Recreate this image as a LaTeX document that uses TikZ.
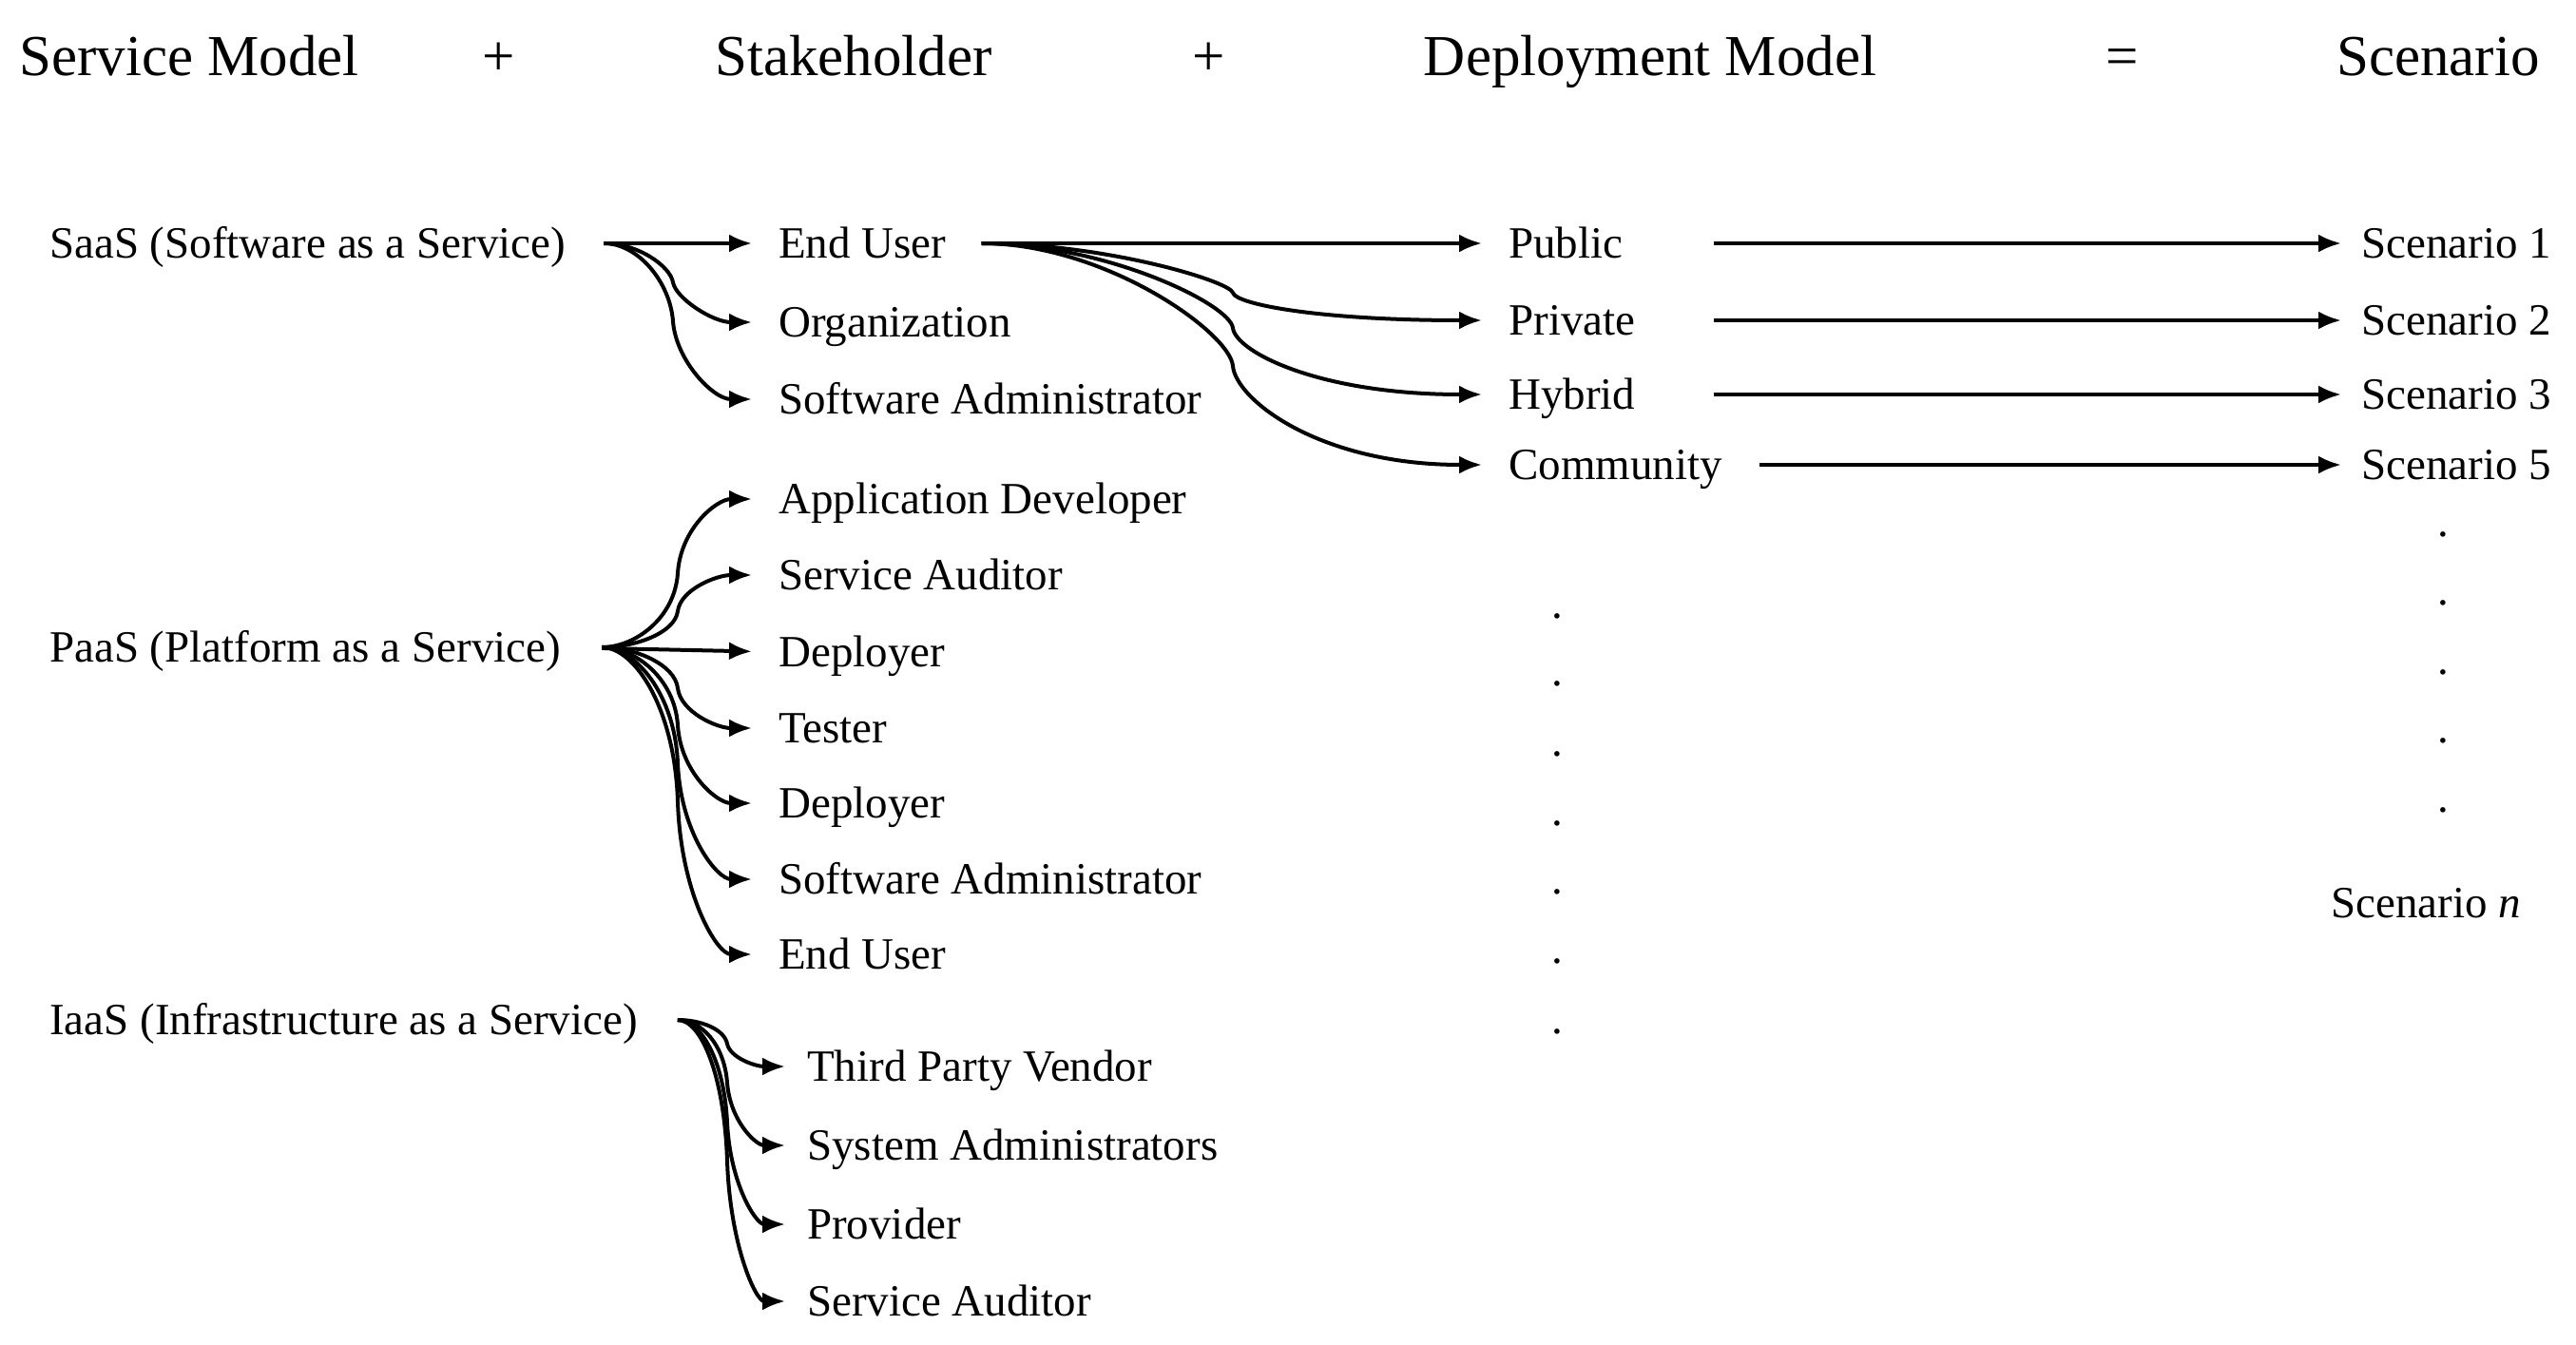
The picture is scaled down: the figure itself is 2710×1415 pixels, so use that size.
\documentclass[tikz,border=0pt]{standalone}
\usepackage{fontspec}
\setmainfont{Liberation Serif}
\usetikzlibrary{arrows.meta}
% #1 source node, #2 target node, #3 shorten start, #4 shorten end,
% #5 start handle, #6 middle point, #7 vertical handle at middle, #8 end handle
\newcommand{\twobend}[8]{%
  \draw[arr, shorten <=#3, shorten >=#4] (#1.east)
    .. controls +(#5,0) and +(-3,{-1*(#7)}) .. (#6)
    .. controls +(3,{#7}) and +(-#8,0) .. (#2.west);}
\begin{document}
\begin{tikzpicture}[x=1pt,y=-1pt,
  lbl/.style={font=\fontsize{47}{56}\selectfont, inner sep=0pt, text height=31pt, text depth=0pt, anchor=west},
  hdr/.style={font=\fontsize{61}{72}\selectfont, inner sep=0pt, text height=40pt, text depth=0pt},
  dotnode/.style={font=\fontsize{47}{56}\selectfont, inner sep=0pt},
  arr/.style={line width=4pt, -{Latex[length=24pt,width=19pt]}},
]
\fill[white] (0,0) rectangle (2710,1415);
\useasboundingbox (0,0) rectangle (2710,1415);

% headers
\node[hdr] (hsm) at (199,60) {Service Model};
\node[hdr] (hp1) at (525,60) {+};
\node[hdr] (hsh) at (898,60) {Stakeholder};
\node[hdr] (hp2) at (1272,60) {+};
\node[hdr] (hdm) at (1736,60) {Deployment Model};
\node[hdr] (heq) at (2233,60) {=};
\node[hdr] (hsc) at (2565,60) {Scenario};

% service models
\node[lbl] (saas) at (52,256) {SaaS (Software as a Service)};
\node[lbl] (paas) at (52,681) {PaaS (Platform as a Service)};
\node[lbl] (iaas) at (52,1073) {IaaS (Infrastructure as a Service)};

% stakeholders
\node[lbl] (s1) at (819,256) {End User};
\node[lbl] (s2) at (819,339) {Organization};
\node[lbl] (s3) at (819,420) {Software Administrator};
\node[lbl] (p1) at (819,525) {Application Developer};
\node[lbl] (p2) at (819,605) {Service Auditor};
\node[lbl] (p3) at (819,686) {Deployer};
\node[lbl] (p4) at (819,766) {Tester};
\node[lbl] (p5) at (819,845) {Deployer};
\node[lbl] (p6) at (819,925) {Software Administrator};
\node[lbl] (p7) at (819,1004) {End User};
\node[lbl] (i1) at (849,1122) {Third Party Vendor};
\node[lbl] (i2) at (849,1205) {System Administrators};
\node[lbl] (i3) at (849,1288) {Provider};
\node[lbl] (i4) at (849,1369) {Service Auditor};

% deployment models
\node[lbl] (d1) at (1587,256) {Public};
\node[lbl] (d2) at (1587,337) {Private};
\node[lbl] (d3) at (1587,415) {Hybrid};
\node[lbl] (d4) at (1587,489) {Community};

% scenarios
\node[lbl] (c1) at (2484,256) {Scenario 1};
\node[lbl] (c2) at (2484,337) {Scenario 2};
\node[lbl] (c3) at (2484,415) {Scenario 3};
\node[lbl] (c5) at (2484,489) {Scenario 5};
\node[lbl] (cn) at (2452,950) {Scenario \textit{n}};

% dots
\node[dotnode] (m1) at (1638,648) {.};
\node[dotnode] (m2) at (1638,719) {.};
\node[dotnode] (m3) at (1638,793) {.};
\node[dotnode] (m4) at (1638,866) {.};
\node[dotnode] (m5) at (1638,938) {.};
\node[dotnode] (m6) at (1638,1011) {.};
\node[dotnode] (m7) at (1638,1085) {.};
\node[dotnode] (r1) at (2570,562) {.};
\node[dotnode] (r2) at (2570,634) {.};
\node[dotnode] (r3) at (2570,707) {.};
\node[dotnode] (r4) at (2570,779) {.};
\node[dotnode] (r5) at (2570,852) {.};

% SaaS arrows
\draw[arr, shorten <=40pt, shorten >=28pt] (saas.east) -- (s1.west);
\twobend{saas}{s2}{40pt}{28pt}{76}{708,297}{17}{69}
\twobend{saas}{s3}{40pt}{28pt}{76}{708,338}{41}{69}

% PaaS arrows
\twobend{paas}{p1}{43pt}{28pt}{78}{713,603}{-47}{65}
\twobend{paas}{p2}{43pt}{28pt}{78}{713,643}{-23}{65}
\draw[arr, shorten <=43pt, shorten >=28pt] (paas.east) -- (p3.west);
\twobend{paas}{p4}{43pt}{28pt}{78}{713,724}{25}{65}
\twobend{paas}{p5}{43pt}{28pt}{78}{713,763}{49}{65}
\twobend{paas}{p6}{43pt}{28pt}{78}{713,803}{73}{65}
\twobend{paas}{p7}{43pt}{28pt}{78}{713,843}{97}{65}

% IaaS arrows
\twobend{iaas}{i1}{42pt}{23pt}{67}{765,1098}{15}{54}
\twobend{iaas}{i2}{42pt}{23pt}{67}{765,1139}{40}{54}
\twobend{iaas}{i3}{42pt}{23pt}{67}{765,1181}{64}{54}
\twobend{iaas}{i4}{42pt}{23pt}{67}{765,1221}{89}{54}

% End User -> deployment
\draw[arr, shorten <=37pt, shorten >=28pt] (s1.east) -- (d1.west);
\twobend{s1}{d2}{37pt}{28pt}{167}{1297,308}{12}{200}
\twobend{s1}{d3}{37pt}{28pt}{167}{1297,345}{25}{200}
\twobend{s1}{d4}{37pt}{28pt}{167}{1297,385}{35}{200}

% deployment -> scenarios
\begin{scope}[arr, shorten >=21pt]
\draw ([xshift=216pt]d1.west) -- (c1.west);
\draw ([xshift=216pt]d2.west) -- (c2.west);
\draw ([xshift=216pt]d3.west) -- (c3.west);
\draw ([xshift=264pt]d4.west) -- (c5.west);
\end{scope}
\end{tikzpicture}
\end{document}
